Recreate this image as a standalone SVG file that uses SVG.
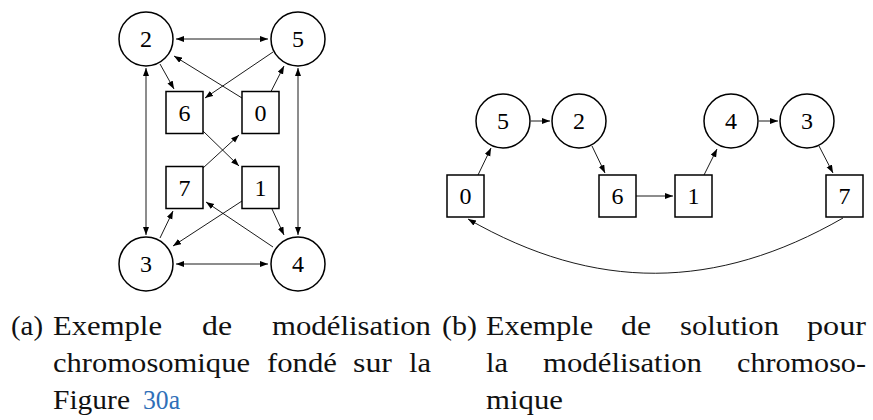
<svg xmlns="http://www.w3.org/2000/svg" width="873" height="420" viewBox="0 0 873 420">
<style>
.node{fill:#fff;stroke:#000;stroke-width:1.5}
.lbl{font-family:"Liberation Serif","DejaVu Serif",serif;font-size:24px;text-anchor:middle;fill:#000}
.edge{fill:none;stroke:#000;stroke-width:0.9}
.cap{font-family:"Liberation Serif","DejaVu Serif",serif;font-size:27px;fill:#111}
.link{fill:#2f6fb8}
</style>
<defs>
<marker id="ah" markerUnits="userSpaceOnUse" markerWidth="9" markerHeight="7" refX="8" refY="3" orient="auto-start-reverse">
<path d="M0,0 L8,3 L0,6 z" fill="#000"/>
</marker>
</defs>

<g id="connectors">
<!-- left graph -->
<line class="edge" x1="176" y1="39" x2="268" y2="39" marker-start="url(#ah)" marker-end="url(#ah)"/>
<line class="edge" x1="176" y1="264" x2="268" y2="264" marker-start="url(#ah)" marker-end="url(#ah)"/>
<line class="edge" x1="146" y1="68" x2="146" y2="235" marker-start="url(#ah)" marker-end="url(#ah)"/>
<line class="edge" x1="298" y1="68" x2="298" y2="235" marker-start="url(#ah)" marker-end="url(#ah)"/>
<line class="edge" x1="160" y1="64" x2="174" y2="89" marker-end="url(#ah)"/>
<line class="edge" x1="273" y1="52" x2="205" y2="98" marker-end="url(#ah)"/>
<line class="edge" x1="242" y1="98" x2="174" y2="56" marker-end="url(#ah)"/>
<line class="edge" x1="271" y1="91.5" x2="284" y2="66" marker-end="url(#ah)"/>
<line class="edge" x1="203" y1="131" x2="239" y2="166" marker-end="url(#ah)"/>
<line class="edge" x1="203" y1="168" x2="239" y2="135" marker-end="url(#ah)"/>
<line class="edge" x1="160" y1="238" x2="173" y2="211" marker-end="url(#ah)"/>
<line class="edge" x1="242" y1="201" x2="173" y2="246" marker-end="url(#ah)"/>
<line class="edge" x1="272" y1="209" x2="284" y2="235" marker-end="url(#ah)"/>
<line class="edge" x1="273" y1="247" x2="206" y2="202" marker-end="url(#ah)"/>
<!-- right graph -->
<line class="edge" x1="478" y1="175" x2="491" y2="148" marker-end="url(#ah)"/>
<line class="edge" x1="531" y1="121" x2="550" y2="121" marker-end="url(#ah)"/>
<line class="edge" x1="592" y1="146" x2="605" y2="173" marker-end="url(#ah)"/>
<line class="edge" x1="636" y1="196" x2="673" y2="196" marker-end="url(#ah)"/>
<line class="edge" x1="704" y1="175" x2="717" y2="149" marker-end="url(#ah)"/>
<line class="edge" x1="759" y1="121" x2="778" y2="121" marker-end="url(#ah)"/>
<line class="edge" x1="819" y1="146" x2="833" y2="173" marker-end="url(#ah)"/>
<path class="edge" d="M843,218 C716,291 595,292 468,219" marker-end="url(#ah)"/>
</g>

<!-- left graph nodes -->
<g id="a2"><circle class="node" cx="146" cy="39" r="27"/><text class="lbl" x="146" y="47">2</text></g>
<g id="a5"><circle class="node" cx="298" cy="39" r="27"/><text class="lbl" x="298" y="47">5</text></g>
<g id="a3"><circle class="node" cx="146" cy="264" r="27"/><text class="lbl" x="146" y="272">3</text></g>
<g id="a4"><circle class="node" cx="298" cy="264" r="27"/><text class="lbl" x="298" y="272">4</text></g>
<g id="a6"><rect class="node" x="166" y="91.5" width="37" height="42"/><text class="lbl" x="184.5" y="120.5">6</text></g>
<g id="a0"><rect class="node" x="242" y="91.5" width="37" height="42"/><text class="lbl" x="260.5" y="120.5">0</text></g>
<g id="a7"><rect class="node" x="166" y="166.5" width="37" height="42"/><text class="lbl" x="184.5" y="195.5">7</text></g>
<g id="a1"><rect class="node" x="242" y="166.5" width="37" height="42"/><text class="lbl" x="260.5" y="195.5">1</text></g>

<!-- right graph nodes -->
<g id="b5"><circle class="node" cx="503" cy="121" r="27"/><text class="lbl" x="503" y="129">5</text></g>
<g id="b2"><circle class="node" cx="579" cy="121" r="27"/><text class="lbl" x="579" y="129">2</text></g>
<g id="b4"><circle class="node" cx="731" cy="121" r="27"/><text class="lbl" x="731" y="129">4</text></g>
<g id="b3"><circle class="node" cx="807" cy="121" r="27"/><text class="lbl" x="807" y="129">3</text></g>
<g id="b0"><rect class="node" x="447" y="175" width="37" height="42"/><text class="lbl" x="465.5" y="204">0</text></g>
<g id="b6"><rect class="node" x="599" y="175" width="37" height="42"/><text class="lbl" x="617.5" y="204">6</text></g>
<g id="b1"><rect class="node" x="675" y="175" width="37" height="42"/><text class="lbl" x="693.5" y="204">1</text></g>
<g id="b7"><rect class="node" x="826" y="175" width="37" height="42"/><text class="lbl" x="844.5" y="204">7</text></g>

<g id="captions" class="cap">
<text x="11" y="335" textLength="32" lengthAdjust="spacingAndGlyphs">(a)</text>
<text x="53" y="335" textLength="109" lengthAdjust="spacingAndGlyphs">Exemple</text>
<text x="202" y="335" textLength="30" lengthAdjust="spacingAndGlyphs">de</text>
<text x="272" y="335" textLength="159" lengthAdjust="spacingAndGlyphs">modélisation</text>
<text x="53" y="372" textLength="197" lengthAdjust="spacingAndGlyphs">chromosomique</text>
<text x="267" y="372" textLength="70" lengthAdjust="spacingAndGlyphs">fondé</text>
<text x="353" y="372" textLength="39" lengthAdjust="spacingAndGlyphs">sur</text>
<text x="409" y="372" textLength="22" lengthAdjust="spacingAndGlyphs">la</text>
<text x="53" y="409" textLength="77" lengthAdjust="spacingAndGlyphs">Figure</text>
<text class="link" x="143" y="409" textLength="37" lengthAdjust="spacingAndGlyphs">30a</text>

<text x="442" y="335" textLength="35" lengthAdjust="spacingAndGlyphs">(b)</text>
<text x="486" y="335" textLength="107" lengthAdjust="spacingAndGlyphs">Exemple</text>
<text x="621" y="335" textLength="30" lengthAdjust="spacingAndGlyphs">de</text>
<text x="680" y="335" textLength="99" lengthAdjust="spacingAndGlyphs">solution</text>
<text x="807" y="335" textLength="59" lengthAdjust="spacingAndGlyphs">pour</text>
<text x="486" y="372" textLength="22" lengthAdjust="spacingAndGlyphs">la</text>
<text x="543" y="372" textLength="159" lengthAdjust="spacingAndGlyphs">modélisation</text>
<text x="737" y="372" textLength="129" lengthAdjust="spacingAndGlyphs">chromoso-</text>
<text x="486" y="409" textLength="77" lengthAdjust="spacingAndGlyphs">mique</text>
</g>
</svg>
